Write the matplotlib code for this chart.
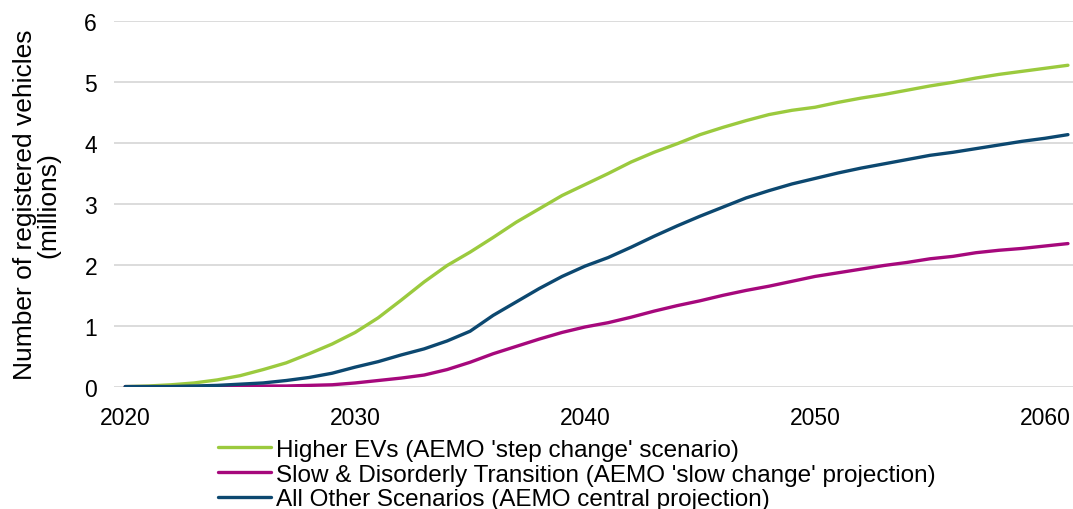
import matplotlib.pyplot as plt

plt.rcParams['font.family'] = ['Liberation Sans', 'DejaVu Sans']

years = list(range(2020, 2062))

# registered EVs, millions
higher_evs = [0.00, 0.01, 0.03, 0.06, 0.11, 0.18, 0.28, 0.39, 0.54, 0.70,
              0.89, 1.13, 1.42, 1.72, 1.99, 2.21, 2.45, 2.70, 2.92, 3.14,
              3.32, 3.50, 3.69, 3.85, 3.99, 4.14, 4.26, 4.37, 4.47, 4.54,
              4.59, 4.67, 4.74, 4.80, 4.87, 4.94, 5.00, 5.07, 5.13, 5.18,
              5.23, 5.28]
slow_change = [0.00, 0.00, 0.00, 0.00, 0.00, 0.00, 0.01, 0.01, 0.02, 0.03,
               0.06, 0.10, 0.14, 0.19, 0.28, 0.40, 0.54, 0.66, 0.78, 0.89,
               0.98, 1.05, 1.14, 1.24, 1.33, 1.41, 1.50, 1.58, 1.65, 1.73,
               1.81, 1.87, 1.93, 1.99, 2.04, 2.10, 2.14, 2.20, 2.24, 2.27,
               2.31, 2.35]
central = [0.00, 0.00, 0.00, 0.01, 0.02, 0.04, 0.06, 0.10, 0.15, 0.22,
           0.32, 0.41, 0.52, 0.62, 0.75, 0.91, 1.17, 1.39, 1.61, 1.81,
           1.98, 2.12, 2.29, 2.47, 2.64, 2.80, 2.95, 3.10, 3.22, 3.33,
           3.42, 3.51, 3.59, 3.66, 3.73, 3.80, 3.85, 3.91, 3.97, 4.03,
           4.08, 4.14]

labels = ["Higher EVs (AEMO 'step change' scenario)",
          "Slow & Disorderly Transition (AEMO 'slow change' projection)",
          "All Other Scenarios (AEMO central projection)"]
colors = ['#9BCA3E', '#A6087C', '#0C4870']

fig = plt.figure(figsize=(10.73, 5.10), dpi=100)
ax = fig.add_axes([0.106, 0.240, 0.900, 0.716])

for vals, lab, col in zip([higher_evs, slow_change, central], labels, colors):
    ax.plot(years, vals, color=col, lw=2.4, label=lab, solid_capstyle='round')

ax.set_xlim(2019.5, 2061.5)
ax.set_ylim(0, 6)
ax.set_xticks([2020, 2030, 2040, 2050, 2060])
ax.set_yticks(range(0, 7))
ax.grid(axis='y', color='#D9D9D9', lw=1.3)
ax.set_axisbelow(True)
for s in ax.spines.values():
    s.set_visible(False)
ax.tick_params(length=0, labelsize=16.5)
ax.tick_params(axis='x', pad=14)
ax.tick_params(axis='y', pad=12)
ax.set_ylabel('Number of registered vehicles\n(millions)', fontsize=19,
              linespacing=1.0, labelpad=17)

fig.legend(loc='upper left', bbox_to_anchor=(0.203, 0.138), frameon=False,
           fontsize=17.5, handlelength=2.2, handletextpad=0.2,
           labelspacing=0.12, borderaxespad=0, borderpad=0)

fig.savefig('out.png', dpi=100)
